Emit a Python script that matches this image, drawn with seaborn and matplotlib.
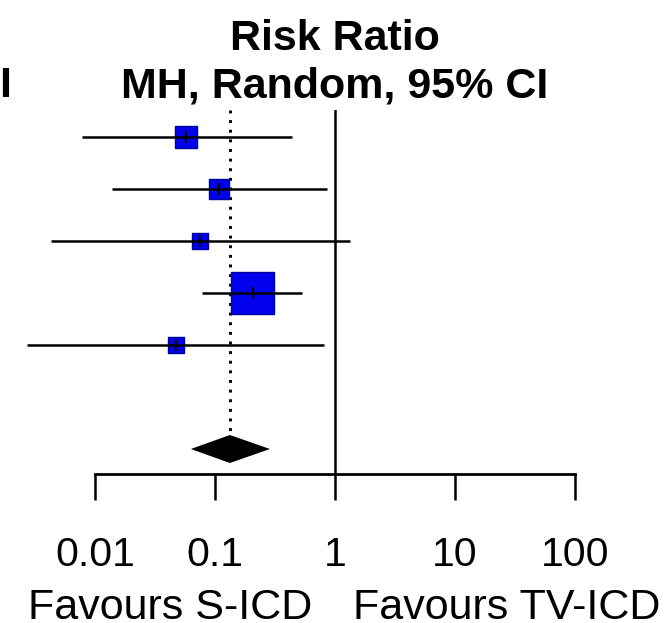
import numpy as np
import pandas as pd
import matplotlib
matplotlib.use("Agg")
import matplotlib.pyplot as plt
import seaborn as sns

# ---- data ----
study_rows = [0, 1, 2, 3, 4]
rr_est = [0.057, 0.108, 0.075, 0.207, 0.047]
rr_lo = [0.0078, 0.0139, 0.0043, 0.078, 0.0027]
rr_hi = [0.438, 0.858, 1.33, 0.531, 0.81]
weights = [14.7, 13.4, 7.8, 56.3, 7.8]

pooled_row = 6
pooled_est = 0.133
pooled_lo = 0.063
pooled_hi = 0.287

tick_values = [0.01, 0.1, 1, 10, 100]
tick_labels = ["0.01", "0.1", "1", "10", "100"]

title_lines = ["Risk Ratio", "MH, Random, 95% CI"]
left_header_tail = "95% CI"
favours_left = "Favours S-ICD"
favours_right = "Favours TV-ICD"

df = pd.DataFrame({"row": study_rows, "rr": rr_est, "lo": rr_lo,
                   "hi": rr_hi, "weight": weights})

# ---- styling ----
sns.set_theme(style="white")
plt.rcParams["font.family"] = ["Liberation Sans", "DejaVu Sans"]
plt.rcParams["text.color"] = "black"
plt.rcParams["xtick.color"] = "black"
plt.rcParams["xtick.labelcolor"] = "black"

W, H = 671, 623
fig = plt.figure(figsize=(W / 100, H / 100), dpi=100)
ax_bottom_px, ax_top_px = 474, 110
ax = fig.add_axes([0, (H - ax_bottom_px) / H, 1, (ax_bottom_px - ax_top_px) / H])

# x: 120 px per decade, value 1 at x=335 px
px_per_dec, x_one = 120, 335
ax.set_xscale("log")
ax.set_xlim(10 ** (-x_one / px_per_dec), 10 ** ((W - x_one) / px_per_dec))
# y: rows 52 px apart, row 0 at y=137 px
row_px, row0_px = 52, 137
ax.set_ylim((ax_bottom_px - row0_px) / row_px, (ax_top_px - row0_px) / row_px)

lw = 1.8
blue = "#0000EE"
edge = "#00009A"
diamond_half = 14 / row_px

# dotted line at pooled estimate (from top down to the diamond)
ax.vlines(pooled_est, ax.get_ylim()[1], pooled_row - diamond_half,
          colors="black", linewidth=2.1, linestyles=(0, (1.0, 2.3)), zorder=1)
# line of no effect
ax.axvline(1, color="black", linewidth=lw, zorder=1)

# study squares (area proportional to weight)
max_side_pt = 43 / 1.389
sns.scatterplot(data=df, x="rr", y="row", size="weight",
                sizes=(0, max_side_pt ** 2), size_norm=(0, max(weights)),
                marker="s", color=blue, edgecolor=edge, linewidth=1.0,
                legend=False, ax=ax, zorder=2)
# CIs on top of squares
ax.hlines(df["row"], df["lo"], df["hi"], colors="black", linewidth=lw, zorder=3)
# small vertical tick at each point estimate
ax.plot(df["rr"], df["row"], linestyle="none", marker="|", markersize=8.5,
        markeredgewidth=1.5, color="black", zorder=4)

# pooled diamond
ax.fill([pooled_lo, pooled_est, pooled_hi, pooled_est],
        [pooled_row, pooled_row - diamond_half, pooled_row, pooled_row + diamond_half],
        color="black", zorder=3, linewidth=0)

# axis (R-style)
for s in ["top", "right", "left"]:
    ax.spines[s].set_visible(False)
ax.spines["bottom"].set_bounds(tick_values[0], tick_values[-1])
ax.spines["bottom"].set_linewidth(2.0)
ax.spines["bottom"].set_color("black")
ax.set_xticks(tick_values)
ax.set_xticklabels(tick_labels)
ax.xaxis.set_minor_locator(matplotlib.ticker.NullLocator())
ax.tick_params(axis="x", which="major", direction="out", length=19, width=1.8,
               color="black", labelcolor="black", labelsize=29.5, pad=26,
               bottom=True)
ax.set_yticks([])
ax.set_xlabel("")
ax.set_ylabel("")
ax.patch.set_alpha(0)

# header text
fig.text(x_one / W, (H - 50) / H, title_lines[0], ha="center", va="baseline",
         fontsize=31, fontweight="bold", color="black")
fig.text(x_one / W, (H - 97) / H, title_lines[1], ha="center", va="baseline",
         fontsize=31, fontweight="bold", color="black")
fig.text(12 / W, (H - 97) / H, left_header_tail, ha="right", va="baseline",
         fontsize=31, fontweight="bold", color="black")

# favours labels
fig.text(312 / W, (H - 619) / H, favours_left, ha="right", va="baseline",
         fontsize=31, color="black")
fig.text(353 / W, (H - 619) / H, favours_right, ha="left", va="baseline",
         fontsize=31, color="black")

fig.savefig("out.png", dpi=100, facecolor="white")
